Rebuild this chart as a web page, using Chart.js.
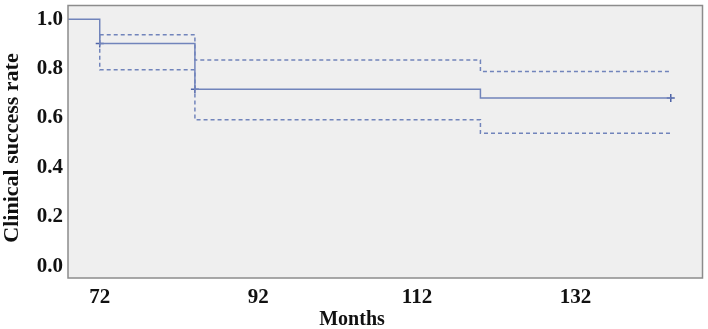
<!DOCTYPE html>
<html>
<head>
<meta charset="utf-8">
<script src="https://cdn.jsdelivr.net/npm/chart.js@4/dist/chart.umd.min.js"></script>
<style>
  html, body { margin: 0; padding: 0; background: #fff; }
  #wrap { width: 708px; height: 329px; }
</style>
</head>
<body>
<div id="wrap"><canvas id="km"></canvas></div>
<script>
// survival curve (Kaplan-Meier)
const survMonths = [0, 72, 84, 120, 144];
const survRate = [1.0, 0.902, 0.717, 0.681, 0.681];

const upperMonths = [72, 84, 120, 144];
const upperRate = [0.938, 0.835, 0.789, 0.789];

const lowerMonths = [72, 72, 84, 120, 144];
const lowerRate = [0.938, 0.796, 0.593, 0.538, 0.538];

const censorMonths = [72, 84, 144];
const censorRate = [0.902, 0.717, 0.681];

const xTicks = [72, 92, 112, 132];
const yTicks = [0.0, 0.2, 0.4, 0.6, 0.8, 1.0];

const lineColor = "#7184bb";
const serif = "'Liberation Serif', 'Times New Roman', serif";
const toPoints = (xs, ys) => xs.map((x, i) => ({ x: x, y: ys[i] }));

// grey plot area, frame and the two axis titles
const plotBg = {
  id: "plotBg",
  beforeDraw(chart) {
    const { ctx, chartArea: a } = chart;
    ctx.save();
    ctx.fillStyle = "#efefef";
    ctx.fillRect(a.left, a.top, a.right - a.left, a.bottom - a.top);
    ctx.restore();
  },
  afterDraw(chart) {
    const { ctx, chartArea: a } = chart;
    ctx.save();
    ctx.strokeStyle = "#8c8c8c";
    ctx.lineWidth = 1.5;
    ctx.strokeRect(a.left, a.top, a.right - a.left, a.bottom - a.top);
    ctx.fillStyle = "#111";
    ctx.textAlign = "center";
    ctx.textBaseline = "middle";
    ctx.font = "bold 20px " + serif;
    ctx.fillText("Months", 352, 320);
    ctx.translate(12, 148);
    ctx.rotate(-Math.PI / 2);
    ctx.font = "bold 22px " + serif;
    ctx.fillText("Clinical success rate", 0, 0);
    ctx.restore();
  },
};

const tickFont = { family: serif, size: 21, weight: "bold" };

new Chart(document.getElementById("km"), {
  type: "line",
  data: {
    datasets: [
      {
        label: "Survival",
        data: toPoints(survMonths, survRate),
        borderColor: lineColor,
        borderWidth: 1.5,
        stepped: "before",
        pointRadius: 0,
        fill: false,
      },
      {
        label: "Upper 95% CI",
        data: toPoints(upperMonths, upperRate),
        borderColor: lineColor,
        borderWidth: 1.5,
        borderDash: [4, 3],
        stepped: "before",
        pointRadius: 0,
        fill: false,
      },
      {
        label: "Lower 95% CI",
        data: toPoints(lowerMonths, lowerRate),
        borderColor: lineColor,
        borderWidth: 1.5,
        borderDash: [4, 3],
        stepped: "before",
        pointRadius: 0,
        fill: false,
      },
      {
        label: "Censored",
        type: "scatter",
        data: toPoints(censorMonths, censorRate),
        borderColor: "#4f64a8",
        borderWidth: 1.5,
        pointStyle: "cross",
        pointRadius: 4,
        showLine: false,
      },
    ],
  },
  options: {
    responsive: true,
    maintainAspectRatio: false,
    animation: false,
    layout: { padding: { top: 2, right: 3, bottom: 0, left: 0 } },
    plugins: { legend: { display: false }, tooltip: { enabled: false } },
    scales: {
      x: {
        type: "linear",
        min: 68,
        max: 148,
        grid: { display: false, drawTicks: true, tickLength: 4, tickColor: "#8c8c8c" },
        border: { display: false },
        afterBuildTicks(axis) {
          axis.ticks = xTicks.map((v) => ({ value: v }));
        },
        afterFit(axis) {
          axis.height = 51;
        },
        ticks: { color: "#111", font: tickFont, padding: 3, maxRotation: 0 },
      },
      y: {
        min: -0.048,
        max: 1.056,
        grid: { display: false, drawTicks: true, tickLength: 4, tickColor: "#8c8c8c" },
        border: { display: false },
        afterBuildTicks(axis) {
          axis.ticks = yTicks.map((v) => ({ value: v }));
        },
        afterFit(axis) {
          axis.width = 68;
        },
        ticks: {
          color: "#111",
          font: { family: serif, size: 21, weight: "bold", lineHeight: 0.3 },
          padding: 1,
          callback: (v) => v.toFixed(1),
        },
      },
    },
  },
  plugins: [plotBg],
});
</script>
</body>
</html>
